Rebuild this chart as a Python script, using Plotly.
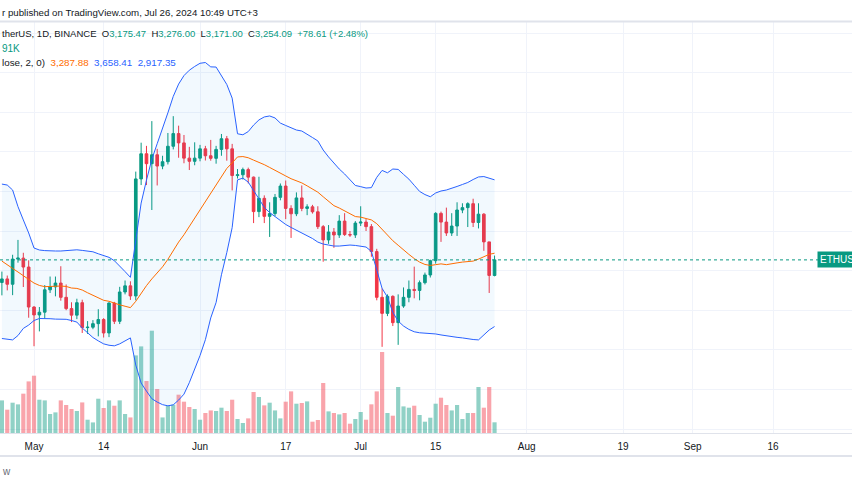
import pandas as pd
import plotly.graph_objects as go

# ---------------- data (daily ETH/USDT, Binance) ----------------
start_date = "2024-04-25"
n_days = 93
dates = pd.date_range(start_date, periods=n_days, freq="D")

opens = [3140, 3158, 3131, 3258, 3263, 3218, 3016, 2976, 2990, 3103,
         3118, 3137, 3065, 3008, 2975, 3038, 2912, 2914, 2932, 2953,
         2885, 3036, 2944, 3092, 3123, 3072, 3663, 3790, 3740, 3785,
         3728, 3750, 3828, 3892, 3845, 3768, 3752, 3768, 3815, 3780,
         3767, 3812, 3866, 3815, 3680, 3684, 3710, 3672, 3498, 3565,
         3474, 3488, 3570, 3627, 3514, 3487, 3567, 3514, 3522, 3497,
         3422, 3355, 3395, 3380, 3450, 3382, 3380, 3440, 3445, 3422,
         3296, 3065, 2984, 3070, 2937, 3021, 3065, 3105, 3100, 3139,
         3178, 3250, 3489, 3445, 3390, 3425, 3506, 3518, 3538, 3443,
         3485, 3345, 3175.47]
highs = [3195, 3175, 3280, 3355, 3290, 3252, 3020, 3016, 3127, 3170,
         3170, 3222, 3130, 3040, 3058, 3053, 2945, 2950, 3005, 2960,
         3040, 3042, 3118, 3150, 3146, 3700, 3846, 3830, 3955, 3815,
         3780, 3895, 3980, 3932, 3885, 3825, 3848, 3835, 3830, 3860,
         3830, 3890, 3880, 3840, 3713, 3720, 3720, 3675, 3674, 3580,
         3545, 3587, 3640, 3655, 3530, 3595, 3630, 3535, 3532, 3525,
         3430, 3430, 3415, 3480, 3490, 3400, 3450, 3525, 3460, 3435,
         3310, 3110, 3080, 3075, 3080, 3115, 3150, 3220, 3150, 3190,
         3255, 3495, 3498, 3518, 3490, 3545, 3540, 3545, 3563, 3540,
         3490, 3345, 3276.00]
lows = [3075, 3100, 3076, 3240, 3117, 2962, 2818, 2893, 2958, 3087,
        3070, 3048, 3000, 2940, 2955, 2885, 2880, 2904, 2868, 2862,
        2864, 2930, 2930, 3080, 3052, 3050, 3632, 3632, 3506, 3630,
        3712, 3736, 3812, 3770, 3742, 3708, 3732, 3752, 3756, 3755,
        3740, 3780, 3755, 3605, 3665, 3660, 3640, 3440, 3470, 3440,
        3370, 3475, 3555, 3460, 3365, 3475, 3500, 3480, 3488, 3410,
        3245, 3335, 3315, 3365, 3375, 3370, 3365, 3425, 3400, 3270,
        3050, 2815, 2970, 2920, 2825, 3012, 3040, 3060, 3050, 3130,
        3165, 3235, 3345, 3375, 3375, 3375, 3490, 3420, 3420, 3413,
        3300, 3087, 3171.00]
closes = [3158, 3131, 3258, 3263, 3218, 3016, 2976, 2990, 3103, 3118,
          3137, 3065, 3008, 2975, 3038, 2912, 2914, 2932, 2953, 2885,
          3036, 2944, 3092, 3123, 3072, 3663, 3790, 3740, 3785, 3728,
          3750, 3828, 3892, 3845, 3768, 3752, 3768, 3815, 3780, 3767,
          3812, 3866, 3815, 3680, 3684, 3710, 3672, 3498, 3565, 3474,
          3488, 3570, 3627, 3514, 3487, 3567, 3514, 3522, 3497, 3422,
          3355, 3395, 3380, 3450, 3382, 3380, 3440, 3445, 3422, 3296,
          3065, 2984, 3070, 2937, 3021, 3065, 3105, 3100, 3139, 3178,
          3250, 3489, 3445, 3390, 3425, 3506, 3518, 3538, 3443, 3485,
          3345, 3175.48, 3254.09]
volumes_k = [582, 416, 541, 511, 702, 921, 1023, 594, 582, 339,
             368, 582, 500, 428, 393, 546, 237, 189, 612, 446,
             582, 487, 582, 339, 278, 1385, 1546, 928, 1826, 785,
             278, 487, 505, 684, 559, 464, 428, 237, 357, 403,
             393, 452, 393, 594, 250, 179, 261, 732, 643, 493,
             541, 403, 261, 559, 743, 523, 536, 564, 202, 232,
             893, 386, 357, 332, 357, 166, 250, 375, 237, 512,
             743, 1446, 357, 309, 821, 475, 452, 487, 321, 202,
             273, 523, 630, 500, 403, 500, 250, 357, 357, 821,
             452, 821, 191]
# Bollinger Bands (20, 2)
bb_upper = [3637, 3632, 3607, 3523, 3456, 3390, 3314, 3304, 3301, 3299,
            3299, 3299, 3301, 3304, 3305, 3302, 3300, 3295, 3285, 3275,
            3267, 3250, 3225, 3195, 3166, 3367, 3541, 3657, 3762, 3841,
            3914, 3997, 4080, 4142, 4185, 4212, 4231, 4247, 4251, 4229,
            4228, 4181, 4140, 4071, 3891, 3886, 3902, 3935, 3961, 3976,
            3981, 3971, 3945, 3933, 3920, 3910, 3905, 3890, 3872, 3855,
            3809, 3774, 3743, 3713, 3688, 3658, 3630, 3624, 3617, 3619,
            3671, 3706, 3694, 3713, 3711, 3686, 3662, 3631, 3600, 3584,
            3573, 3592, 3602, 3607, 3615, 3625, 3635, 3645, 3660, 3673,
            3675, 3668, 3658.41]
bb_basis = [3248, 3228, 3211, 3193, 3175, 3158, 3137, 3125, 3119, 3120,
            3122, 3122, 3120, 3112, 3110, 3102, 3088, 3075, 3062, 3050,
            3045, 3035, 3027, 3020, 3013, 3045, 3086, 3124, 3158, 3188,
            3219, 3257, 3301, 3344, 3381, 3423, 3465, 3509, 3551, 3595,
            3634, 3680, 3716, 3744, 3774, 3776, 3770, 3758, 3747, 3735,
            3721, 3708, 3695, 3678, 3664, 3655, 3643, 3628, 3613, 3596,
            3573, 3550, 3528, 3516, 3501, 3485, 3473, 3470, 3463, 3456,
            3437, 3408, 3380, 3351, 3328, 3303, 3282, 3261, 3243, 3231,
            3226, 3230, 3234, 3230, 3233, 3239, 3243, 3247, 3248, 3258,
            3272, 3282, 3287.88]
bb_lower = [2857, 2852, 2850, 2872, 2908, 2925, 2948, 2958, 2959, 2957,
            2955, 2954, 2954, 2948, 2940, 2910, 2885, 2862, 2845, 2830,
            2823, 2820, 2830, 2846, 2860, 2723, 2632, 2591, 2553, 2536,
            2523, 2517, 2522, 2546, 2576, 2634, 2700, 2771, 2851, 2961,
            3039, 3179, 3291, 3417, 3658, 3667, 3647, 3607, 3562, 3519,
            3493, 3473, 3453, 3433, 3418, 3405, 3390, 3377, 3362, 3344,
            3334, 3329, 3324, 3324, 3327, 3329, 3327, 3324, 3319, 3297,
            3203, 3110, 3066, 2989, 2945, 2920, 2903, 2891, 2886, 2885,
            2882, 2880, 2875, 2870, 2867, 2863, 2860, 2855, 2852, 2850,
            2875, 2900, 2917.35]

tick_dates = ["2024-05-01", "2024-05-14", "2024-06-01", "2024-06-17", "2024-07-01",
              "2024-07-15", "2024-08-01", "2024-08-19", "2024-09-01", "2024-09-16",
              "2024-10-01"]
tick_text = ["May", "14", "Jun", "17", "Jul", "15", "Aug", "19", "Sep", "16", "Oct"]
price_grid = [2400, 2600, 2800, 3000, 3200, 3400, 3600, 3800, 4000, 4200, 4400]

# ---------------- styling ----------------
UP = "#089981"
DOWN = "#f23645"
UP_VOL = "rgba(8,153,129,0.45)"
DOWN_VOL = "rgba(242,54,69,0.45)"
TXT = "#131722"
FONT = "Liberation Sans, Arial, sans-serif"
W, H = 852, 485
TOP, BOTTOM = 22, 433          # plot pane in pixels
PANE_H = BOTTOM - TOP

vol_colors = [UP_VOL if c >= o else DOWN_VOL for o, c in zip(opens, closes)]

fig = go.Figure()

# volume (base axis, drawn underneath)
fig.add_trace(go.Bar(
    x=dates, y=volumes_k, marker=dict(color=vol_colors, line=dict(width=0)),
    width=0.78 * 86400000, yaxis="y", showlegend=False, hoverinfo="skip"))

# Bollinger band fill + lines
fig.add_trace(go.Scatter(x=dates, y=bb_upper, mode="lines", yaxis="y2",
                         line=dict(color="#2962ff", width=1), showlegend=False))
fig.add_trace(go.Scatter(x=dates, y=bb_lower, mode="lines", yaxis="y2",
                         line=dict(color="#2962ff", width=1), fill="tonexty",
                         fillcolor="rgba(33,150,243,0.06)", showlegend=False))
fig.add_trace(go.Scatter(x=dates, y=bb_basis, mode="lines", yaxis="y2",
                         line=dict(color="#ff6d00", width=1), showlegend=False))

# candles
fig.add_trace(go.Candlestick(
    x=dates, open=opens, high=highs, low=lows, close=closes, yaxis="y2",
    increasing=dict(line=dict(color=UP, width=1), fillcolor=UP),
    decreasing=dict(line=dict(color=DOWN, width=1), fillcolor=DOWN),
    whiskerwidth=0, showlegend=False))

# price line (dotted) at last close
fig.add_shape(type="line", xref="paper", x0=0, x1=1, yref="y2",
              y0=closes[-1], y1=closes[-1],
              line=dict(color=UP, width=1, dash="dot"))

# pixel-to-paper helper for text placement
def py(ypix):
    return (BOTTOM - ypix) / PANE_H

# frame lines
fig.add_shape(type="line", xref="paper", yref="paper", x0=0, x1=1,
              y0=py(21.5), y1=py(21.5), line=dict(color="#e0e3eb", width=2))
fig.add_shape(type="line", xref="paper", yref="paper", x0=0, x1=1,
              y0=py(456), y1=py(456), line=dict(color="#e0e3eb", width=2))

ann = []
ann.append(dict(text="r published on TradingView.com, Jul 26, 2024 10:49 UTC+3",
                x=0, y=py(12.5), xanchor="left", yanchor="middle",
                font=dict(size=9.7, color=TXT)))
g = lambda s: f'<span style="color:{UP}">{s}</span>'
chg = closes[-1] - closes[-2]
line1 = ("therUS, 1D, BINANCE\u00a0\u00a0O" + g(f"{opens[-1]:,.2f}") +
         "\u00a0\u00a0H" + g(f"{highs[-1]:,.2f}") +
         "\u00a0\u00a0L" + g(f"{lows[-1]:,.2f}") +
         "\u00a0\u00a0C" + g(f"{closes[-1]:,.2f}") +
         "\u00a0\u00a0" + g(f"+{chg:.2f} (+{chg / closes[-2] * 100:.2f}%)"))
ann.append(dict(text=line1, x=0, y=py(34), xanchor="left", yanchor="middle",
                font=dict(size=9.5, color=TXT)))
ann.append(dict(text="91K", x=0, y=py(48.5), xanchor="left", yanchor="middle",
                font=dict(size=10, color=UP)))
line3 = ("lose, 2, 0)\u00a0\u00a0" +
         f'<span style="color:#ff6d00">{bb_basis[-1]:,.2f}</span>\u00a0\u00a0' +
         f'<span style="color:#2962ff">{bb_upper[-1]:,.2f}</span>\u00a0\u00a0' +
         f'<span style="color:#2962ff">{bb_lower[-1]:,.2f}</span>')
ann.append(dict(text=line3, x=0, y=py(62), xanchor="left", yanchor="middle",
                font=dict(size=9.8, color=TXT)))
ann.append(dict(text="ETHUSDT", xref="paper", yref="y2", x=817 / W, y=closes[-1],
                xanchor="left", yanchor="middle", bgcolor=UP, borderpad=2,
                font=dict(size=10, color="white")))
ann.append(dict(text="w", x=0, y=py(471), xanchor="left", yanchor="middle",
                font=dict(size=10, color="#6a6d78")))
for a in ann:
    a.setdefault("xref", "paper")
    a.setdefault("yref", "paper")
    a["showarrow"] = False

price_top = 3400 + (231 - TOP) / 0.198
price_bot = price_top - PANE_H / 0.198
vol_top = PANE_H * 17.85

fig.update_layout(
    width=W, height=H,
    margin=dict(l=0, r=0, t=TOP, b=H - BOTTOM),
    paper_bgcolor="white", plot_bgcolor="white",
    font=dict(family=FONT, color=TXT),
    showlegend=False,
    annotations=ann,
    xaxis=dict(type="date", range=["2024-04-24 15:29", "2024-09-30 18:00"],
               tickvals=tick_dates, ticktext=tick_text,
               showgrid=True, gridcolor="#f0f3fa", gridwidth=1,
               showline=True, linecolor="#e0e3eb", linewidth=1,
               ticks="outside", ticklen=4, tickcolor="rgba(0,0,0,0)",
               tickfont=dict(size=10, color=TXT),
               rangeslider=dict(visible=False), zeroline=False, fixedrange=True),
    yaxis=dict(range=[0, vol_top], showgrid=False, showticklabels=False,
               zeroline=False, fixedrange=True),
    yaxis2=dict(range=[price_bot, price_top], overlaying="y", side="right",
                tickvals=price_grid, showticklabels=False,
                showgrid=True, gridcolor="#f0f3fa", gridwidth=1,
                zeroline=False, fixedrange=True),
)

fig.write_html("out.html")
